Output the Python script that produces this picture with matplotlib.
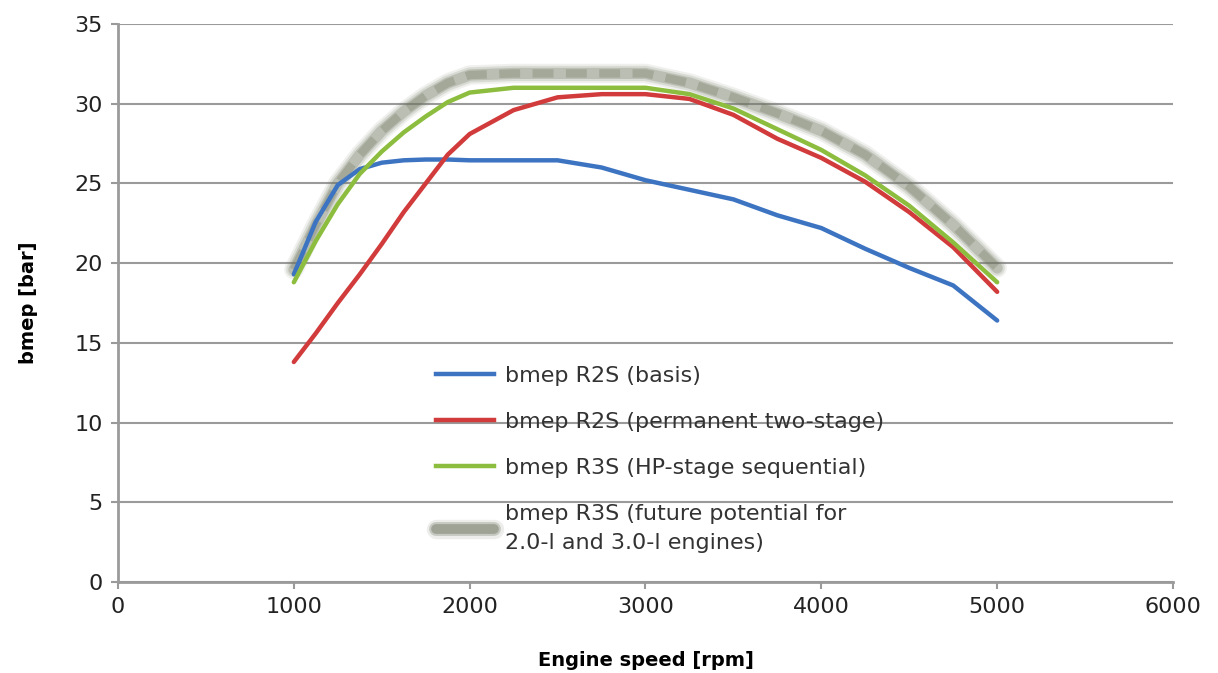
"""bmep vs engine speed for R2S / R3S boosting concepts."""

import matplotlib

matplotlib.use("Agg")
import matplotlib.pyplot as plt
from matplotlib.legend_handler import HandlerTuple
from matplotlib.lines import Line2D

rpm = [1000, 1125, 1250, 1375, 1500, 1625, 1750, 1875, 2000, 2250, 2500,
       2750, 3000, 3250, 3500, 3750, 4000, 4250, 4500, 4750, 5000]

r2s_basis = [19.3, 22.6, 24.9, 25.9, 26.3, 26.45, 26.5, 26.5, 26.45, 26.45, 26.45,
             26.0, 25.2, 24.6, 24.0, 23.0, 22.2, 20.9, 19.7, 18.6, 16.4]
r2s_two_stage = [13.8, 15.6, 17.5, 19.3, 21.2, 23.2, 25.0, 26.8, 28.1, 29.6, 30.4,
                 30.6, 30.6, 30.3, 29.3, 27.8, 26.6, 25.1, 23.2, 21.0, 18.2]
r3s_sequential = [18.8, 21.4, 23.7, 25.6, 27.0, 28.2, 29.2, 30.1, 30.7, 31.0, 31.0,
                  31.0, 31.0, 30.6, 29.7, 28.4, 27.1, 25.5, 23.6, 21.3, 18.8]
r3s_future = [19.6, 22.4, 25.0, 26.8, 28.3, 29.5, 30.5, 31.3, 31.8, 31.9, 31.9,
              31.9, 31.9, 31.3, 30.4, 29.4, 28.3, 26.8, 24.8, 22.4, 19.7]

labels = ["bmep R2S (basis)",
          "bmep R2S (permanent two-stage)",
          "bmep R3S (HP-stage sequential)",
          "bmep R3S (future potential for\n2.0-l and 3.0-l engines)"]

BLUE, RED, GREEN, GREY = "#3d74c2", "#d23b3b", "#8dbd3e", "#6f7660"
AXC = "#9a9a9a"

plt.rcParams["font.family"] = ["DejaVu Sans"]

fig = plt.figure(figsize=(12.18, 6.73), dpi=100)
ax = fig.add_axes([118 / 1218, 91 / 673, 1055 / 1218, 558 / 673])

# blurred, dashed "future potential" band
for lw, a in [(14, 0.10), (11, 0.18), (8, 0.28)]:
    ax.plot(rpm, r3s_future, color=GREY, lw=lw, alpha=a, solid_capstyle="round", zorder=2)
ax.plot(rpm, r3s_future, color=GREY, lw=6, alpha=0.3, dashes=(2.5, 1.5), zorder=2)

ax.plot(rpm, r2s_basis, color=BLUE, lw=3.2, solid_capstyle="round", zorder=3)
ax.plot(rpm, r2s_two_stage, color=RED, lw=3.2, solid_capstyle="round", zorder=3)
ax.plot(rpm, r3s_sequential, color=GREEN, lw=3.2, solid_capstyle="round", zorder=4)

ax.set_xlim(0, 6000)
ax.set_ylim(0, 35)
ax.set_xticks(range(0, 6001, 1000))
ax.set_yticks(range(0, 36, 5))
ax.grid(axis="y", color=AXC, lw=1.5)
ax.set_axisbelow(True)
for s in ["top", "right"]:
    ax.spines[s].set_visible(False)
for s in ["left", "bottom"]:
    ax.spines[s].set_color(AXC)
    ax.spines[s].set_linewidth(2)
ax.tick_params(colors=AXC, width=1.5, length=5, labelcolor="#222222", labelsize=16, pad=6)

ax.set_xlabel("Engine speed [rpm]", fontsize=14, fontweight="bold", labelpad=24)
ax.set_ylabel("bmep [bar]", fontsize=14, fontweight="bold", labelpad=26)

future_handle = (Line2D([], [], color=GREY, lw=14, alpha=0.12, solid_capstyle="round"),
                 Line2D([], [], color=GREY, lw=10, alpha=0.3, solid_capstyle="round"),
                 Line2D([], [], color=GREY, lw=7, alpha=0.45, solid_capstyle="round"))
handles = [Line2D([], [], color=BLUE, lw=3.2),
           Line2D([], [], color=RED, lw=3.2),
           Line2D([], [], color=GREEN, lw=3.2),
           future_handle]
leg = ax.legend(handles, labels, loc="upper left", bbox_to_anchor=(416 / 1218, 1 - 346 / 673),
                bbox_transform=fig.transFigure, frameon=False, fontsize=16,
                handlelength=2.6, handletextpad=0.5, labelspacing=1.17,
                labelcolor="#333333", handler_map={tuple: HandlerTuple(ndivide=1, pad=0)})
leg.get_texts()[3].set_linespacing(1.55)

fig.savefig("out.png", dpi=100)
plt.close(fig)
